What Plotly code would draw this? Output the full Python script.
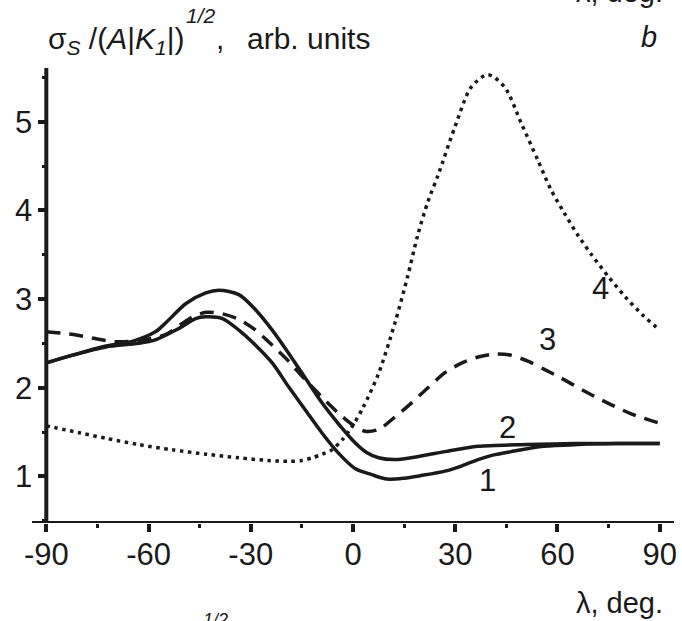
import plotly.graph_objects as go

# ---- data ----
x1 = [-90, -82, -72.5, -63, -58, -51, -46.2, -43.2, -38.3, -33.5, -28.6, -23.7, -18.9, -14, -9.1, -4.2, 0.6, 5.5, 10, 15, 20, 27, 32, 36.7, 41, 46.4, 56, 66, 78, 90]
y1 = [2.28, 2.37, 2.46, 2.50, 2.54, 2.67, 2.78, 2.80, 2.78, 2.65, 2.48, 2.28, 2.01, 1.75, 1.49, 1.26, 1.09, 1.02, 0.97, 0.98, 1.01, 1.06, 1.12, 1.19, 1.24, 1.28, 1.34, 1.36, 1.37, 1.37]

x2 = [-90, -82, -72.5, -65, -58, -55, -49, -43.2, -39.3, -33.5, -28.6, -23.7, -18.9, -14, -9.1, -4.2, 0.6, 4, 7.5, 12.3, 20, 27, 36.7, 51, 65, 90]
y2 = [2.28, 2.37, 2.47, 2.52, 2.63, 2.73, 2.95, 3.07, 3.10, 3.05, 2.88, 2.65, 2.39, 2.11, 1.83, 1.59, 1.38, 1.27, 1.21, 1.19, 1.23, 1.28, 1.34, 1.36, 1.37, 1.37]

x3 = [-90, -82, -75, -70, -63, -55, -51, -47, -43, -38, -33.5, -28.6, -23.7, -18.9, -14, -9, -4.2, 0, 3.6, 7.5, 12, 17.2, 22, 27, 32, 37, 41.6, 46, 51.3, 56, 61, 68, 75.7, 82, 90]
y3 = [2.63, 2.60, 2.55, 2.52, 2.53, 2.60, 2.70, 2.80, 2.85, 2.83, 2.77, 2.65, 2.48, 2.30, 2.09, 1.89, 1.71, 1.58, 1.51, 1.53, 1.66, 1.83, 2.00, 2.17, 2.28, 2.35, 2.38, 2.37, 2.30, 2.21, 2.11, 1.96, 1.81, 1.70, 1.60]

x4 = [-90, -80, -72.5, -63, -53, -43, -33.5, -25, -18.9, -15, -12, -9, -6.2, -3, -0.3, 3, 7.5, 12.3, 16, 19, 22, 25, 29.9, 34.7, 39.6, 44.5, 49.4, 54.2, 58, 62, 66, 70, 75, 80, 85, 90]
y4 = [1.57, 1.49, 1.43, 1.36, 1.30, 1.25, 1.21, 1.18, 1.17, 1.18, 1.21, 1.25, 1.30, 1.42, 1.56, 1.78, 2.16, 2.73, 3.25, 3.72, 4.10, 4.40, 4.94, 5.39, 5.53, 5.39, 4.98, 4.57, 4.24, 3.97, 3.72, 3.50, 3.25, 3.02, 2.82, 2.65]

x_ticks = [-90, -60, -30, 0, 30, 60, 90]
x_tick_labels = ["-90", "-60", "-30", "0", "30", "60", "90"]
y_ticks = [1, 2, 3, 4, 5]
y_tick_labels = ["1", "2", "3", "4", "5"]

curve_labels = ["1", "2", "3", "4"]
label_x = [39.6, 45.4, 57.2, 72.5]
label_y = [0.95, 1.55, 2.54, 3.12]

# ---- layout geometry ----
W, H = 682, 621
L, R, T, B = 32.3, 676.7, 68.0, 523.3
XR = [-94.2, 94.2]
YR = [0.475, 5.605]

def pxx(px):
    return (px - L) / (R - L)

def pxy(py):
    return (B - py) / (B - T)

FONT = "Liberation Sans, Arial, sans-serif"
INK = "#1a1a1a"

fig = go.Figure()
styles = [
    dict(width=3.5, dash="solid"),
    dict(width=3.5, dash="solid"),
    dict(width=3.5, dash="14px,9px"),
    dict(width=3.5, dash="3.5px,4.5px"),
]
for xs, ys, st in zip([x1, x2, x3, x4], [y1, y2, y3, y4], styles):
    fig.add_trace(go.Scatter(x=xs, y=ys, mode="lines",
                             line=dict(color=INK, shape="spline", smoothing=0.8, **st),
                             showlegend=False, hoverinfo="skip"))

# axis lines
fig.add_shape(type="line", xref="x", yref="y", x0=XR[0], x1=XR[1], y0=YR[0], y1=YR[0],
              line=dict(color=INK, width=4))
fig.add_shape(type="line", xref="x", yref="y", x0=-90, x1=-90, y0=YR[0], y1=YR[1],
              line=dict(color=INK, width=4))

ann = []
for t, lx, ly in zip(curve_labels, label_x, label_y):
    ann.append(dict(x=lx, y=ly, xref="x", yref="y", text=t, showarrow=False,
                    font=dict(family=FONT, size=31, color=INK)))

def text_ann(txt, px, py, xanchor, size, yanchor="middle"):
    return dict(x=pxx(px), y=pxy(py), xref="paper", yref="paper", xanchor=xanchor, yanchor=yanchor,
                text=txt, showarrow=False, font=dict(family=FONT, size=size, color=INK))

# y-axis title, split so the exponent sits high as in the reference
ann.append(text_ann("σ<sub><i>S</i></sub> /(<i>A</i>|<i>K</i><sub><i>1</i></sub>|)", 46, 40, "left", 30))
ann.append(text_ann("<i>1/2</i>", 202, 15, "center", 21))
ann.append(text_ann(",", 215, 38, "left", 30))
ann.append(text_ann("arb. units", 374, 38, "right", 30))
ann.append(text_ann("<i>b</i>", 652, 37, "center", 29))
ann.append(text_ann("λ, deg.", 668, 603, "right", 29))
ann.append(text_ann("λ, deg.", 668, -8, "right", 29))
ann.append(text_ann("<i>1/2</i>", 216, 620, "center", 18))

fig.update_layout(
    width=W, height=H,
    margin=dict(l=L, r=W - R, t=T, b=H - B, pad=0),
    plot_bgcolor="white", paper_bgcolor="white",
    annotations=ann,
    xaxis=dict(range=XR, tickmode="array", tickvals=x_ticks, ticktext=x_tick_labels,
               ticks="outside", ticklen=8, tickwidth=4, tickcolor=INK,
               showgrid=False, zeroline=False, showline=False,
               ticklabelstandoff=-4,
               tickfont=dict(family=FONT, size=31, color=INK),
               minor=dict(dtick=15, tick0=0, ticks="outside", ticklen=4, tickwidth=3, tickcolor=INK, showgrid=False)),
    yaxis=dict(range=YR, tickmode="array", tickvals=y_ticks, ticktext=y_tick_labels,
               anchor="free", position=pxx(46.7),
               ticks="outside", ticklen=8, tickwidth=4, tickcolor=INK,
               showgrid=False, zeroline=False, showline=False,
               tickfont=dict(family=FONT, size=31, color=INK),
               minor=dict(dtick=0.5, tick0=0, ticks="outside", ticklen=4, tickwidth=3, tickcolor=INK, showgrid=False)),
)

fig.write_html("out.html", config={"displayModeBar": False},
               post_script="document.body.style.margin='0';document.body.style.overflow='hidden';")
